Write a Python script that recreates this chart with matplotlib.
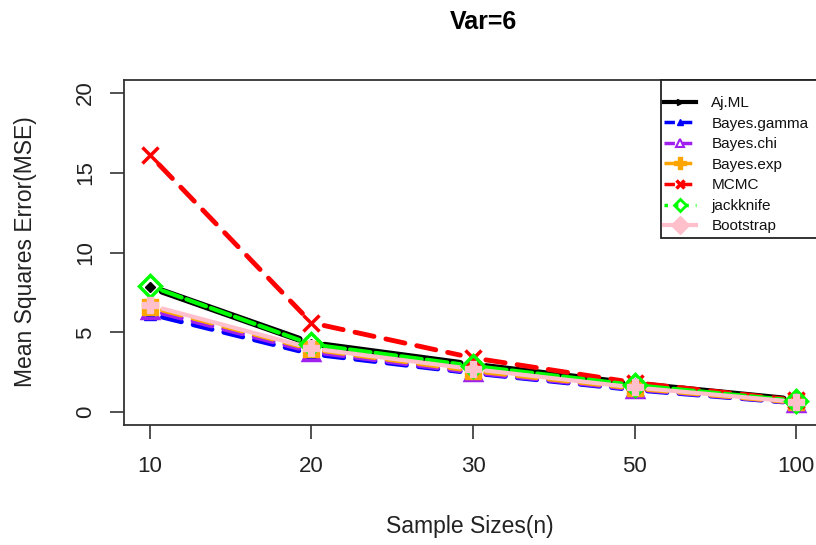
import matplotlib
matplotlib.use("Agg")
import matplotlib.pyplot as plt
from matplotlib.lines import Line2D
from matplotlib.patches import Rectangle
import numpy as np

plt.rcParams['font.family'] = ['Liberation Sans', 'DejaVu Sans']

sample_sizes = ["10", "20", "30", "50", "100"]
aj_ml = [7.85, 4.3, 2.95, 1.75, 0.75]
bayes_gamma = [6.15, 3.65, 2.45, 1.4, 0.58]
bayes_chi = [6.4, 3.8, 2.5, 1.45, 0.6]
bayes_exp = [6.6, 3.95, 2.6, 1.5, 0.62]
mcmc = [16.1, 5.6, 3.4, 1.85, 0.75]
jackknife = [7.9, 4.25, 2.9, 1.7, 0.72]
bootstrap = [6.7, 4.0, 2.7, 1.55, 0.65]
labels = ["Aj.ML", "Bayes.gamma", "Bayes.chi", "Bayes.exp", "MCMC", "jackknife", "Bootstrap"]

series = [
    (aj_ml, "black", "-", "D", 5, 5.0, True),
    (bayes_gamma, "#0000FF", (0, (4, 2.5)), "^", 9, 3.5, True),
    (bayes_chi, "#A020F0", (0, (4, 2.5)), "^", 11, 3.5, False),
    (bayes_exp, "#FFA500", (0, (4, 2.5)), "s", 11, 3.5, True),
    (mcmc, "#FF0000", (0, (4, 2.5)), "x", 11, 3.5, True),
    (jackknife, "#00FF00", (0, (5, 1.2)), "D", 11, 3.0, False),
    (bootstrap, "#FFC0CB", "-", "P", 12, 3.0, True),
]

W, H = 816, 545
fig = plt.figure(figsize=(W / 100, H / 100), dpi=100)
left, right, top, bottom = 124, 822, 80, 425
ax = fig.add_axes([left / W, (H - bottom) / H, (right - left) / W, (bottom - top) / H])
x = np.arange(1, len(sample_sizes) + 1)
ax.set_xlim(0.84, 5.16)
ax.set_ylim(-0.8, 20.8)

gap = 13.0
for vals, col, ls, mk, ms, lw, filled in series:
    pts = ax.transData.transform(np.column_stack([x, vals]))
    for i in range(len(x) - 1):
        p0, p1 = pts[i], pts[i + 1]
        d = p1 - p0
        u = d / np.hypot(*d)
        a = ax.transData.inverted().transform([p0 + u * gap, p1 - u * gap])
        ax.plot(a[:, 0], a[:, 1], color=col, linestyle=ls, lw=lw,
                solid_capstyle='round', dash_capstyle='round', zorder=2)
    if filled:
        ax.plot(x, vals, linestyle='none', marker=mk, ms=ms, color=col,
                mec=col, mew=2.5 if mk == 'x' else 1, zorder=3)
    else:
        ax.plot(x, vals, linestyle='none', marker=mk, ms=ms, mfc='none',
                mec=col, mew=2.5, zorder=3)

ax.set_xticks(x)
ax.set_xticklabels(sample_sizes, fontsize=16)
ax.set_yticks([0, 5, 10, 15, 20])
ax.set_yticklabels(["0", "5", "10", "15", "20"], fontsize=16, rotation=90, va='center')
ax.tick_params(direction='out', length=10, width=1.2, colors='#333333')
ax.tick_params(axis='x', pad=12)
ax.tick_params(axis='y', pad=10)
for tl in ax.get_xticklabels() + ax.get_yticklabels():
    tl.set_color('#222222')
for s in ax.spines.values():
    s.set_color('#333333')
    s.set_linewidth(1.3)

fig.text(470 / W, 1 - 527 / H, "Sample Sizes(n)", ha='center', va='center',
         fontsize=16.5, color='#222222')
fig.text(26 / W, 1 - 252 / H, "Mean Squares Error(MSE)", ha='center', va='center',
         rotation=90, fontsize=16.5, color='#222222')
fig.text(483 / W, 1 - 22 / H, "Var=6", ha='center', va='center',
         fontsize=18, fontweight='bold', color='black')

# legend frame
fx0 = (661 - left) / (right - left)
fy0 = 1 - (238 - top) / (bottom - top)
ax.add_patch(Rectangle((fx0, fy0), 1.2, 1 - fy0, transform=ax.transAxes, fill=True,
                       facecolor='white', edgecolor='#222222', lw=1.3, zorder=5,
                       clip_on=False))

handles = [
    Line2D([], [], color='black', lw=3, marker='>', ms=5),
    Line2D([], [], color='#0000FF', lw=2.5, ls=(0, (3, 2)), marker='^', ms=5),
    Line2D([], [], color='#A020F0', lw=2.5, ls=(0, (3, 2)), marker='^', ms=6, mfc='none', mew=1.5),
    Line2D([], [], color='#FFA500', lw=2.5, ls=(0, (3, 2)), marker='P', ms=8),
    Line2D([], [], color='#FF0000', lw=2.5, ls=(0, (3, 2)), marker='x', ms=6, mew=2.5),
    Line2D([], [], color='#00FF00', lw=2.5, ls=(0, (1, 2)), marker='D', ms=6, mfc='none', mew=2),
    Line2D([], [], color='#FFC0CB', lw=3, marker='D', ms=9),
]
leg = ax.legend(handles, labels, loc='upper left',
                bbox_to_anchor=((664 - left) / (right - left), 1 - (96 - top) / (bottom - top)),
                fontsize=11, frameon=False, handlelength=2.1, handletextpad=1.0,
                labelspacing=0.43, borderpad=0, borderaxespad=0)
leg.set_zorder(6)
for t in leg.get_texts():
    t.set_color('#111111')

fig.savefig("out.png", dpi=100)
